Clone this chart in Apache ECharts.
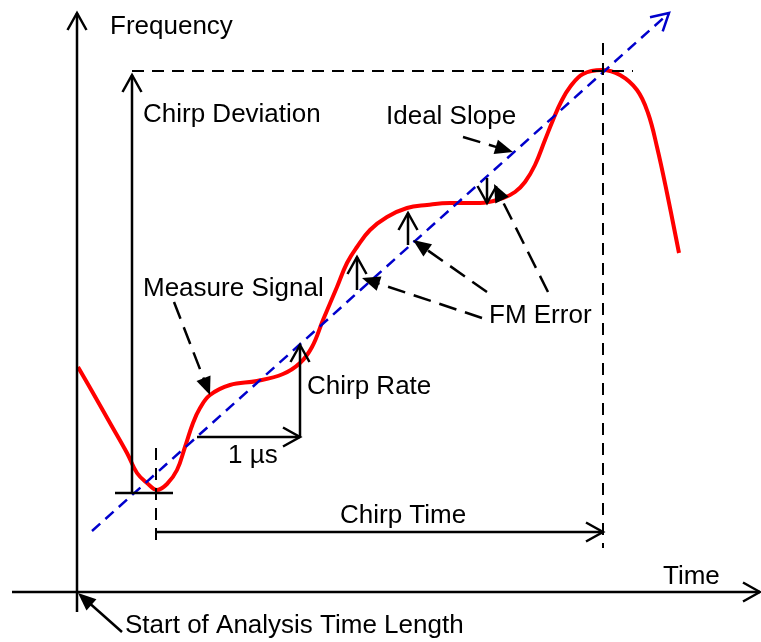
<!DOCTYPE html>
<html><head><meta charset="utf-8">
<script src="https://cdn.jsdelivr.net/npm/echarts/dist/echarts.min.js"></script>
<style>html,body{margin:0;padding:0;background:#fff}#c{width:761px;height:642px}</style>
</head><body><div id="c"></div>
<script>
// Data space: t = time (horizontal), f = frequency (vertical); origin at the axes' crossing
const redCurve = [
  [1,225],[16,199],[33,169],[50,139],[60,119],[70,109],[80,102],[90,108],[100,122],[108,145],
  [116,169],[123,184],[133,197],[153,207],[180,211],[206,218],[223,229],[235,245],[246,272],
  [260,305],[270,329],[280,345],[293,362],[310,375],[330,384],[350,387],[373,389],[403,389],
  [426,394],[438,400],[448,410],[458,427],[468,452],[476,472],[484,490],[493,505],[506,518],
  [525,522],[543,517],[560,502],[571,479],[580,445],[590,399],[602,339]
];
const idealSlope = [[15,61,592,579]];
const axisArrows = [[0,-20,0,579],[-65,0,683,0]];
const openArrows = [
  [55,99,55,517],    // chirp deviation
  [79,60,526,60],    // chirp time
  [223,155,223,247], // chirp rate
  [120,155,223,155], // 1 us
  [280,302,280,335], // FM error 1
  [331,347,331,379], // FM error 2
  [410,414,410,389]  // FM error 3
];
const plainLines = [[38,99,96,99]];
const guideDashes = [[55,521,556,521],[526,549,526,44],[79,144,79,44]];
const dashedLeaders = [[97,290,133,197],[386,455,436,440],[405,274,285,314],[410,300,336,352],[471,300,417,408]];
const solidLeaders = [[45,-40,1,-1]];
const labelTexts = ['Frequency','Chirp Deviation','Ideal Slope','Measure Signal','FM Error','Chirp Rate','1 µs','Chirp Time','Time','Start of Analysis Time Length'];
const labelAnchors = [[33,565],[66,477],[309,475],[66,303],[412,276],[230,205],[151,136],[263,76],[586,15],[48,-34]];

function segSeries(data, o) {
  return {
    type: 'custom', data: data, encode: {x: [0, 2], y: [1, 3]}, silent: true, animation: false, z: o.z || 3,
    renderItem: function (params, api) {
      const a = api.coord([api.value(0), api.value(1)]);
      const b = api.coord([api.value(2), api.value(3)]);
      const dx = b[0] - a[0], dy = b[1] - a[1], L = Math.hypot(dx, dy), ux = dx / L, uy = dy / L;
      const children = [];
      let end = b;
      if (o.head === 'filled') {
        const hl = o.headLen, hw = o.headW / 2;
        const bx = b[0] - ux * hl, by = b[1] - uy * hl;
        end = [bx + ux, by + uy];
        children.push({type: 'polygon', shape: {points: [b, [bx - uy * hw, by + ux * hw], [bx + uy * hw, by - ux * hw]]}, style: {fill: o.color}});
      } else if (o.head === 'open') {
        const hl = o.headLen, hw = o.headW / 2;
        const bx = b[0] - ux * hl, by = b[1] - uy * hl;
        children.push({type: 'polyline', shape: {points: [[bx - uy * hw, by + ux * hw], b, [bx + uy * hw, by - ux * hw]]},
          style: {stroke: o.color, lineWidth: o.width, fill: null, lineJoin: 'miter'}});
      }
      children.unshift({type: 'line', shape: {x1: a[0], y1: a[1], x2: end[0], y2: end[1]},
        style: {stroke: o.color, lineWidth: o.width, lineDash: o.dash || null, lineCap: 'butt'}});
      return {type: 'group', children: children};
    }
  };
}

const chart = echarts.init(document.getElementById('c'), null, {renderer: 'canvas'});
chart.setOption({
  animation: false,
  backgroundColor: '#fff',
  grid: {left: 0, right: 0, top: 0, bottom: 0, containLabel: false},
  xAxis: {type: 'value', min: -77, max: 684, show: false},
  yAxis: {type: 'value', min: -50, max: 592, show: false},
  series: [
    {type: 'line', data: redCurve, smooth: 0.4, showSymbol: false, silent: true, z: 2,
      lineStyle: {color: '#ff0000', width: 4}},
    segSeries(idealSlope, {color: '#0000cc', width: 2.5, dash: [11, 7], head: 'open', headLen: 17, headW: 19, z: 3}),
    segSeries(axisArrows, {color: '#000', width: 2.5, head: 'open', headLen: 17, headW: 19, z: 4}),
    segSeries(openArrows, {color: '#000', width: 2.5, head: 'open', headLen: 17, headW: 19, z: 4}),
    segSeries(plainLines, {color: '#000', width: 2.5, head: 'none', z: 4}),
    segSeries(guideDashes, {color: '#000', width: 2, dash: [12, 8], head: 'none', z: 4}),
    segSeries(dashedLeaders, {color: '#000', width: 2.5, dash: [18, 9], head: 'filled', headLen: 18, headW: 15, z: 4}),
    segSeries(solidLeaders, {color: '#000', width: 2.5, head: 'filled', headLen: 18, headW: 15, z: 4}),
    {type: 'custom', data: labelAnchors, encode: {x: 0, y: 1}, silent: true, z: 5,
      renderItem: function (params, api) {
        const p = api.coord([api.value(0), api.value(1)]);
        return {type: 'text', x: p[0], y: p[1],
          style: {text: labelTexts[params.dataIndex], font: '26px "Liberation Sans", Arial, sans-serif',
            fill: '#000', align: 'left', verticalAlign: 'middle'}};
      }}
  ]
});
</script></body></html>
